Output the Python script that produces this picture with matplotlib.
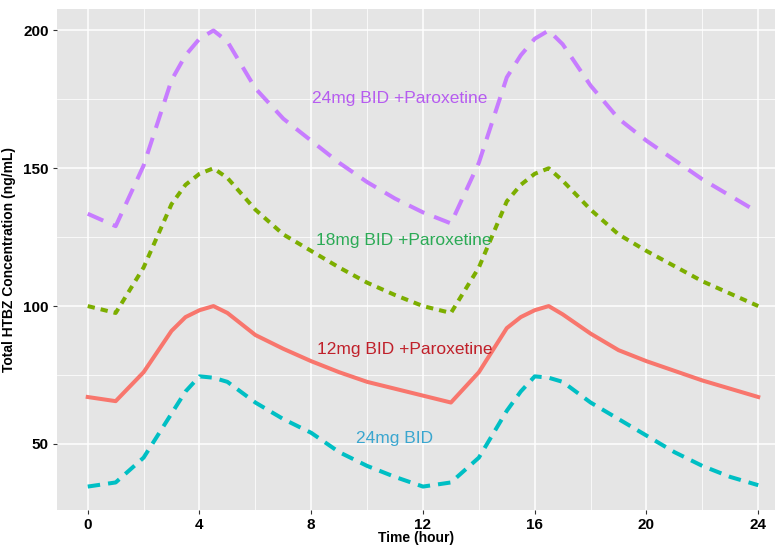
import numpy as np
import matplotlib.pyplot as plt

plt.rcParams['font.family'] = ['Liberation Sans', 'DejaVu Sans']

# tiempos (horas) y concentraciones
tiempo = [0, 1, 2, 3, 3.5, 4, 4.5, 5, 6, 7, 8, 9, 10, 11, 12,
          13, 14, 15, 15.5, 16, 16.5, 17, 18, 19, 20, 21, 22, 23, 24]

conc_24_par = [133.5, 129, 151, 182, 191, 197, 200, 196, 179, 168, 160, 152, 145, 139, 134,
               130, 152, 183, 191, 197, 200, 195, 180, 168, 160, 153, 146, 140, 134]
conc_18_par = [100, 97.5, 114, 137, 144, 148, 150, 146.5, 135, 126, 120, 114, 108.5, 104, 100,
               97.5, 114, 138, 144, 148, 150, 145.5, 135, 126, 120, 114.5, 109, 104.5, 100]
conc_12_par = [67, 65.5, 76, 91, 96, 98.5, 100, 97.5, 89.5, 84.5, 80, 76, 72.5, 70, 67.5,
               65, 76, 92, 96, 98.5, 100, 97, 90, 84, 80, 76.5, 73, 70, 67]
conc_24 = [34.5, 36, 45, 61, 69, 74.5, 74, 72.5, 65, 59, 54, 47, 42, 38, 34.5,
           36, 45, 62, 69, 74.5, 74, 72.5, 65, 59, 53, 47, 42, 38, 35]

etiquetas = ["24mg BID +Paroxetine", "18mg BID +Paroxetine", "12mg BID +Paroxetine", "24mg BID"]
pos_etiquetas = [(11.15, 175.5), (11.3, 123.7), (11.35, 84.3), (11.0, 51.8)]

fig = plt.figure(figsize=(7.75, 5.46), dpi=100)
ax = fig.add_axes([57 / 775, 36 / 546, 1 - 57 / 775, 1 - 45 / 546])
ax.set_facecolor('#E5E5E5')

# lineas: color, estilo de trazo
ax.plot(tiempo, conc_24_par, color='#C77CFF', lw=2.9, dashes=(4.2, 2.6))
ax.plot(tiempo, conc_18_par, color='#7CAE00', lw=2.9, dashes=(1.8, 1.5))
ax.plot(tiempo, conc_12_par, color='#F8766D', lw=2.9)
ax.plot(tiempo, conc_24, color='#00BFC4', lw=2.9, dashes=(3.1, 2.0))

colores_texto = ['#B65CF0', '#2BAA55', '#C0202A', '#3AA6CF']
for txt, (x, y), c in zip(etiquetas, pos_etiquetas, colores_texto):
    ax.text(x, y, txt, color=c, fontsize=12.5, ha='center', va='center')

ax.set_xlim(-1.1, 24.6)
ax.set_ylim(26, 207.8)
ax.set_xticks(range(0, 25, 4))
ax.set_yticks([50, 100, 150, 200])
ax.set_xticks(range(2, 25, 4), minor=True)
ax.set_yticks([75, 125, 175], minor=True)
ax.grid(which='major', color='white', lw=1.1)
ax.grid(which='minor', color='white', lw=0.55)
ax.set_axisbelow(True)
for s in ax.spines.values():
    s.set_visible(False)
ax.tick_params(which='major', length=3, color='#333333', labelsize=11, pad=3)
ax.tick_params(which='minor', length=0)
for lbl in ax.get_xticklabels() + ax.get_yticklabels():
    lbl.set_fontweight('bold')

ax.set_xlabel("Time (hour)", fontsize=10, fontweight='bold', labelpad=-1)
ax.set_ylabel("Total HTBZ Concentration (ng/mL)", fontsize=10, fontweight='bold', labelpad=5)

fig.savefig('out.png', dpi=100)
